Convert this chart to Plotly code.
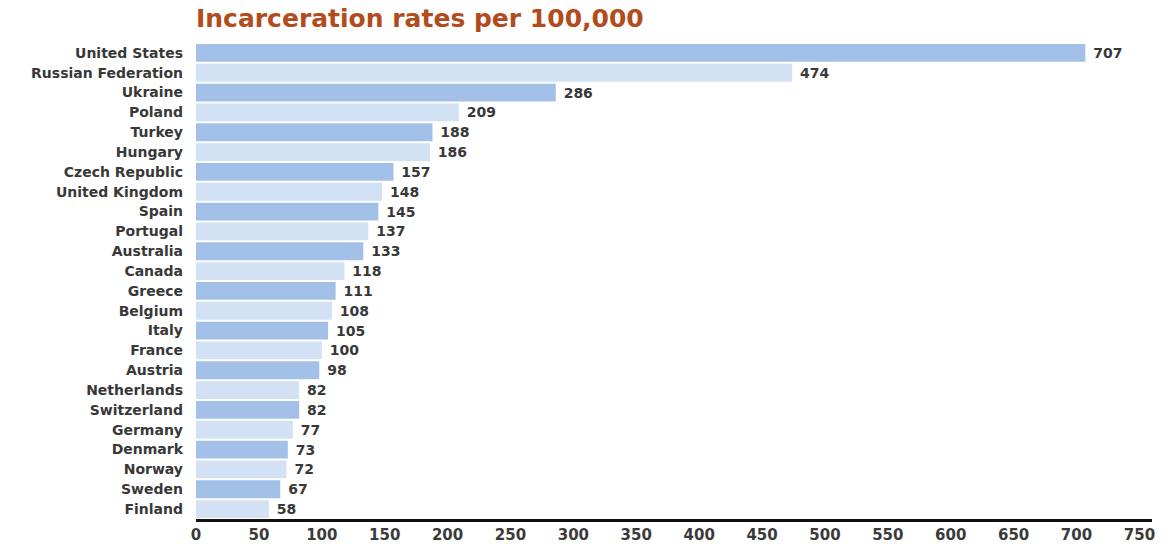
import plotly.graph_objects as go

countries = ["United States", "Russian Federation", "Ukraine", "Poland", "Turkey", "Hungary",
             "Czech Republic", "United Kingdom", "Spain", "Portugal", "Australia", "Canada",
             "Greece", "Belgium", "Italy", "France", "Austria", "Netherlands", "Switzerland",
             "Germany", "Denmark", "Norway", "Sweden", "Finland"]
rates = [707, 474, 286, 209, 188, 186, 157, 148, 145, 137, 133, 118, 111, 108, 105, 100,
         98, 82, 82, 77, 73, 72, 67, 58]
tick_vals = list(range(0, 751, 50))

colors = ["#a3c1e8" if i % 2 == 0 else "#d3e1f4" for i in range(len(countries))]

fig = go.Figure(go.Bar(
    x=rates, y=countries, orientation="h",
    marker=dict(color=colors, line=dict(width=0)),
    texttemplate=" %{x}", textposition="outside", constraintext="none",
    textfont=dict(family="DejaVu Sans", size=14, color="#383838", weight="bold"),
    cliponaxis=False,
))

fig.update_layout(
    width=1164, height=544,
    margin=dict(l=196, r=12, t=43, b=25),
    paper_bgcolor="white", plot_bgcolor="white",
    bargap=0.1,
    showlegend=False,
    title=dict(text="Incarceration rates per 100,000", x=196/1164, xanchor="left",
               y=1 - 18/544, yanchor="middle",
               font=dict(family="DejaVu Sans", size=25, color="#b24c1c", weight="bold")),
)
fig.update_yaxes(range=[23.5, -0.5], automargin=False, showgrid=False, ticks="",
                 ticklabelstandoff=12,
                 tickfont=dict(family="DejaVu Sans", size=14, color="#383838", weight="bold"))
fig.update_xaxes(range=[0, 760], tickvals=tick_vals, automargin=False, showgrid=False,
                 zeroline=False, showline=True, linecolor="#111111", linewidth=3, ticks="",
                 ticklabelstandoff=0,
                 tickfont=dict(family="DejaVu Sans", size=15, color="#3a3a3a", weight="bold"))

fig.write_html("out.html")
